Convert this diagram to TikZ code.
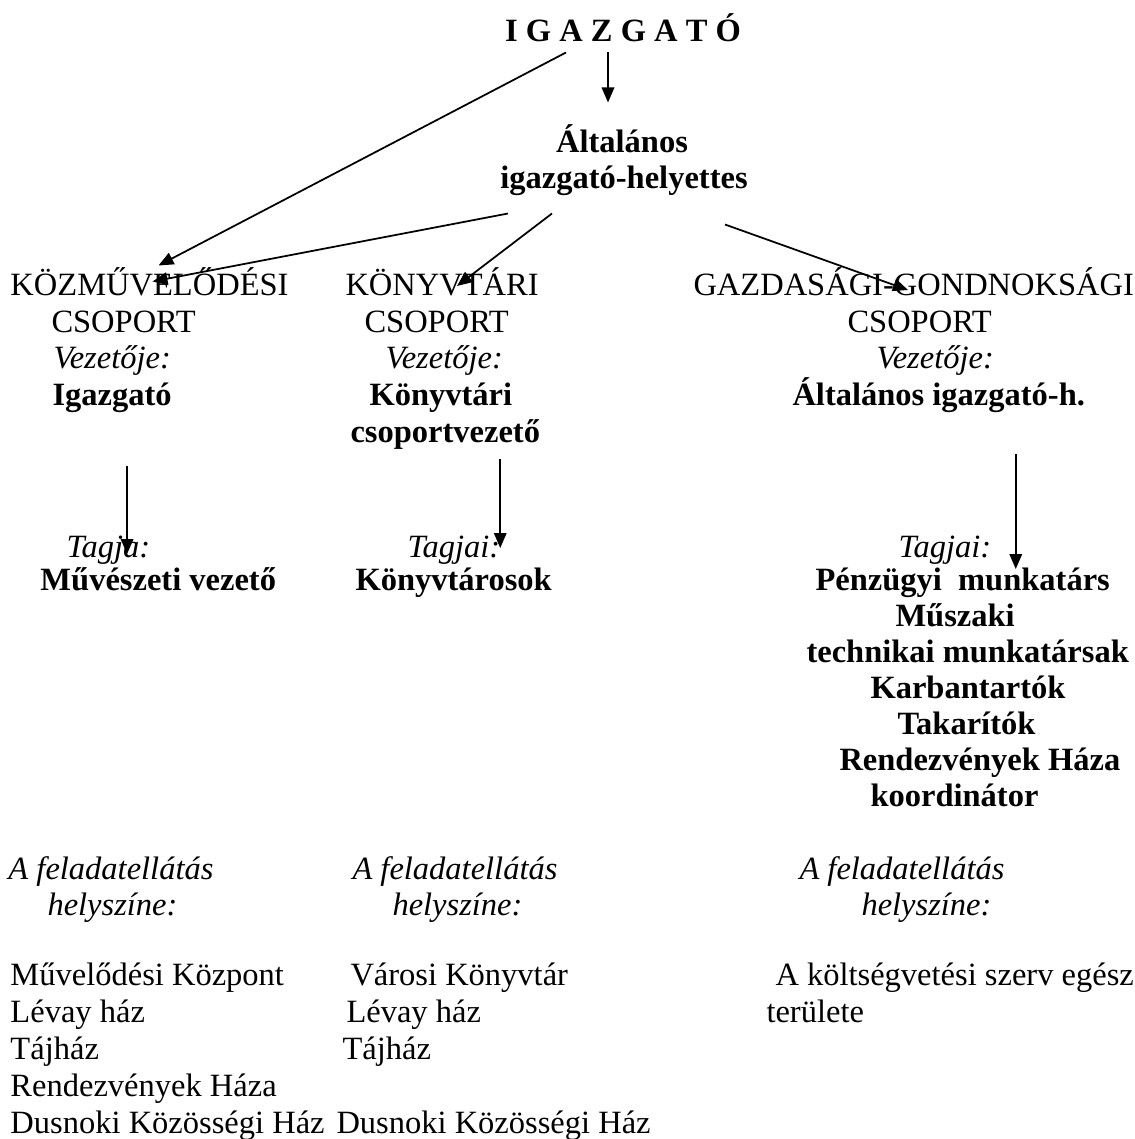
\documentclass[tikz,border=0pt]{standalone}
\usepackage{fontspec}
\setmainfont{Liberation Serif}
\usetikzlibrary{positioning,calc,arrows.meta}

\begin{document}
\begin{tikzpicture}[x=0.4pt,y=-0.4pt,
  lbl/.style={inner sep=0pt,anchor=west,text height=10pt,text depth=2pt,
    font=\fontsize{13}{15}\selectfont},
  hd/.style={lbl,font=\fontsize{13}{15}\selectfont\bfseries},
  lit/.style={lbl,font=\fontsize{13}{15}\selectfont\itshape},
  arr/.style={line width=0.7pt,-{Triangle[length=6pt,width=5pt]}}]
\path[use as bounding box,fill=white] (0,0) rectangle (1134,1139);

% top of the chart
\node[hd,anchor=center] (ig) at (623,32) {I G A Z G A T Ó};
\node[hd,anchor=center] (alt1) at (622,143) {Általános};
\node[hd,anchor=center] (alt2) at (624,179) {igazgató-helyettes};

% groups
\node[lbl] (k1) at (10,285) {KÖZMŰVELŐDÉSI};
\node[lbl] (k2) at (51,322) {CSOPORT};
\node[lit] (k3) at (53,358) {Vezetője:};
\node[hd]  (k4) at (52,395) {Igazgató};
\node[lit] (k5) at (66,547) {Tagja:};
\node[hd]  (k6) at (40,580) {Művészeti vezető};

\node[lbl] (n1) at (345,285) {KÖNYVTÁRI};
\node[lbl] (n2) at (364,322) {CSOPORT};
\node[lit] (n3) at (385,358) {Vezetője:};
\node[hd]  (n4) at (369,395) {Könyvtári};
\node[hd]  (n5) at (350,432) {csoportvezető};
\node[lit] (n6) at (407,547) {Tagjai:};
\node[hd]  (n7) at (355,580) {Könyvtárosok};

\node[lbl] (g1) at (693,285) {GAZDASÁGI-GONDNOKSÁGI};
\node[lbl] (g2) at (847,322) {CSOPORT};
\node[lit] (g3) at (876,358) {Vezetője:};
\node[hd]  (g4) at (792,395) {Általános igazgató-h.};
\node[lit] (g5) at (898,547) {Tagjai:};
\foreach \x/\y/\t [count=\i] in {815/580/Pénzügyi\ \ munkatárs, 895/616/Műszaki,
  806/652/technikai munkatársak, 870/688/Karbantartók, 897/724/Takarítók,
  839/760/Rendezvények Háza, 870/796/koordinátor}
  \node[hd] (gt\i) at (\x,\y) {\t};

% places
\node[lit] (hk0) at (8,869) {A feladatellátás};
\node[lit] (hk00) at (47,905) {helyszíne:};
\node[lit] (hv0) at (352,869) {A feladatellátás};
\node[lit] (hv00) at (392,905) {helyszíne:};
\node[lit] (hg0) at (799,869) {A feladatellátás};
\node[lit] (hg00) at (861,905) {helyszíne:};
\foreach \t [count=\i] in {Művelődési Központ, Lévay ház, Tájház,
  Rendezvények Háza, Dusnoki Közösségi Ház}
  \node[lbl] (hk\i) at (10,{975+37*(\i-1)}) {\t};
\foreach \x/\y/\t [count=\i] in {350/975/Városi Könyvtár, 346/1012/Lévay ház,
  342/1049/Tájház, 336/1123/Dusnoki Közösségi Ház}
  \node[lbl] (hv\i) at (\x,\y) {\t};
\node[lbl] (hg1) at (775,975) {A költségvetési szerv egész};
\node[lbl] (hg2) at (766,1012) {területe};

% arrows
\draw[arr] ($(ig.south)+(-15,5)$) -- ($(alt1.north)+(-14,-25)$);
\draw[arr] ($(ig.south)+(-57,5)$) -- ($(k1.north)+(9,-4)$);
\draw[arr] ($(alt2.south)+(-116,19)$) -- ($(k1.north)+(3,12)$);
\draw[arr] ($(alt2.south)+(-72,19)$) -- ($(n1.west)+(112,1)$);
\draw[arr] ($(alt2.south)+(101,30)$) -- ($(g1.west)+(215,5)$);
\draw[arr] ($(k4.south)+(15,55)$) coordinate (ka) -- ($(ka |- k5.center)+(0,7)$);
\draw[arr] ($(n5.south)+(55,11)$) coordinate (na) -- ($(na |- n6.center)+(0,1)$);
\draw[arr] ($(g4.south)+(77,43)$) coordinate (ga) -- ($(ga |- gt1.center)+(0,-11)$);
\end{tikzpicture}
\end{document}
